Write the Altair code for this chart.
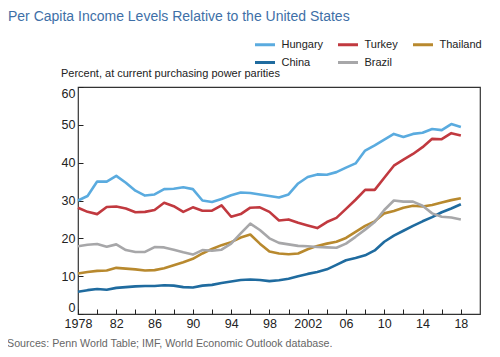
import altair as alt
import pandas as pd

years = list(range(1978, 2019))

hungary = [30.0, 31.2, 35.0, 35.0, 36.5, 34.7, 32.6, 31.3, 31.6, 33.0,
           33.1, 33.5, 33.0, 30.0, 29.6, 30.4, 31.4, 32.1, 32.0, 31.6,
           31.2, 30.8, 31.6, 34.5, 36.2, 36.9, 36.8, 37.5, 38.7, 39.8,
           43.2, 44.6, 46.1, 47.6, 46.8, 47.6, 47.9, 48.9, 48.6, 50.2, 49.4]
turkey = [28.1, 27.0, 26.4, 28.3, 28.4, 27.9, 26.9, 27.0, 27.5, 29.4,
          28.5, 27.0, 28.2, 27.3, 27.3, 28.7, 25.7, 26.4, 28.1, 28.2,
          27.0, 24.7, 25.0, 24.1, 23.4, 22.7, 24.3, 25.4, 27.8, 30.2,
          32.8, 32.8, 36.0, 39.2, 40.8, 42.3, 44.1, 46.3, 46.2, 47.8, 47.2]
thailand = [10.7, 11.1, 11.4, 11.5, 12.2, 12.0, 11.8, 11.5, 11.6, 12.1,
            12.9, 13.7, 14.6, 16.0, 17.2, 18.2, 19.0, 20.2, 21.0, 18.6,
            16.5, 16.0, 15.8, 16.0, 17.1, 18.0, 18.6, 19.1, 20.1, 21.7,
            23.3, 24.5, 26.6, 27.2, 28.1, 28.6, 28.4, 28.8, 29.5, 30.1, 30.6]
china = [5.9, 6.3, 6.6, 6.4, 6.9, 7.1, 7.3, 7.4, 7.4, 7.6,
         7.5, 7.1, 7.0, 7.5, 7.7, 8.2, 8.6, 9.0, 9.1, 9.0,
         8.7, 8.9, 9.3, 10.0, 10.6, 11.1, 11.8, 13.0, 14.2, 14.8,
         15.5, 16.8, 19.1, 20.7, 22.0, 23.3, 24.5, 25.6, 26.9, 27.9, 29.0]
brazil = [17.9, 18.3, 18.5, 17.8, 18.4, 16.9, 16.4, 16.4, 17.7, 17.6,
          17.0, 16.3, 15.7, 16.9, 16.7, 17.0, 18.6, 21.3, 23.9, 22.2,
          20.0, 18.8, 18.4, 18.0, 17.9, 17.7, 17.6, 17.5, 18.6, 20.4,
          22.3, 24.3, 27.5, 30.0, 29.7, 29.7, 28.6, 26.6, 25.7, 25.5, 25.0]

series = ["Hungary", "Turkey", "Thailand", "China", "Brazil"]
colors = ["#5aabdf", "#c1393f", "#b8892e", "#1f6b9f", "#a7a7a9"]

x_ticks = list(range(1978, 2019, 2))
y_ticks = [0, 10, 20, 30, 40, 50, 60]

rows = []
for name, vals in zip(series, [hungary, turkey, thailand, china, brazil]):
    for yr, v in zip(years, vals):
        rows.append({"year": yr, "value": v, "country": name})
df = pd.DataFrame(rows)

FONT = "Liberation Sans"
label_expr = ("datum.value % 4 != 2 ? '' : ((datum.value == 1978 || datum.value == 2002) "
              "? toString(datum.value) : slice(toString(datum.value), 2))")

chart = alt.Chart(df).mark_line(strokeWidth=2.6, strokeJoin="round").encode(
    x=alt.X("year:Q",
            scale=alt.Scale(domain=[1978, 2020], nice=False, zero=False),
            axis=alt.Axis(values=x_ticks, labelExpr=label_expr, labelOverlap=False,
                          labelFlush=False,
                          offset=-5, tickSize=5, domain=False, grid=False,
                          tickColor="#222", labelPadding=3, labelFontSize=12.5,
                          labelFont=FONT, labelColor="#222",
                          title="Sources: Penn World Table; IMF, World Economic Outlook database.",
                          titleFont=FONT, titleFontSize=10.7, titleFontWeight="normal",
                          titleColor="#666666", titleAngle=0, titleAlign="left",
                          titleBaseline="middle", titleX=-71.5, titleY=34.5)),
    y=alt.Y("value:Q",
            scale=alt.Scale(domain=[0, 60], nice=False),
            axis=alt.Axis(values=y_ticks, offset=-5, tickSize=5, domain=False, grid=False,
                          tickColor="#222", labelPadding=3, labelFontSize=12.5,
                          labelFont=FONT, labelColor="#222", labelFlush=True,
                          title="Percent, at current purchasing power parities",
                          titleFont=FONT, titleFontSize=11, titleFontWeight="normal",
                          titleColor="#222", titleAngle=0, titleAlign="left",
                          titleBaseline="middle", titleX=-22.5, titleY=-13.5)),
    color=alt.Color("country:N",
                    scale=alt.Scale(domain=series, range=colors),
                    legend=alt.Legend(orient="none", legendX=175.5, legendY=-54,
                                      columns=3, direction="horizontal", title=None,
                                      symbolType="stroke", symbolSize=400,
                                      symbolStrokeWidth=3, labelFontSize=11,
                                      labelFont=FONT, labelColor="#222",
                                      labelOffset=5, columnPadding=8, rowPadding=-7)),
).properties(
    width=402, height=227,
    autosize=alt.AutoSizeParams(type="none"),
    padding={"left": 70, "top": 79, "right": 12, "bottom": 35},
    title=alt.TitleParams(text="Per Capita Income Levels Relative to the United States",
                          anchor="start", frame="group", dx=-70, dy=6,
                          fontSize=14, font=FONT, fontWeight="normal",
                          color="#3e6fa7", baseline="alphabetic"),
).configure_view(stroke="#333333", strokeWidth=1.2)

chart.save("out.html", embed_options={"renderer": "svg", "actions": False})
